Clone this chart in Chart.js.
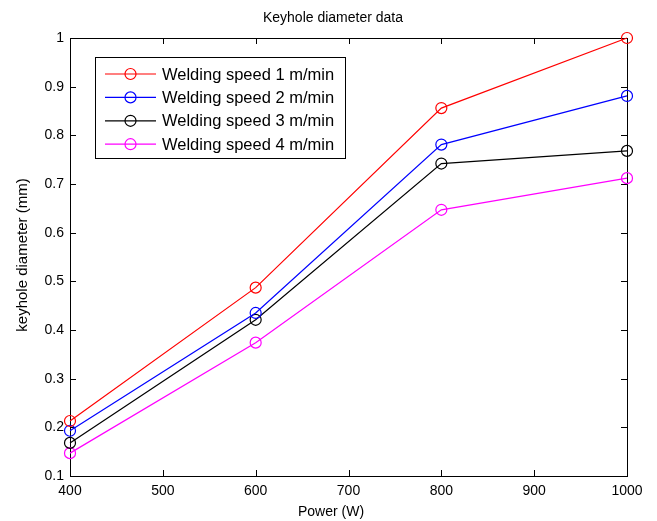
<!DOCTYPE html>
<html>
<head>
<meta charset="utf-8">
<script src="https://cdn.jsdelivr.net/npm/chart.js@4"></script>
<style>
  html, body { margin: 0; padding: 0; background: #fff; }
  #wrap { width: 657px; height: 521px; }
</style>
</head>
<body>
<div id="wrap"><canvas id="chart" width="657" height="521"></canvas></div>
<script>
// ---------- DATA ----------
const power = [400, 600, 800, 1000];
const speed1 = [0.213, 0.487, 0.856, 1.0];
const speed2 = [0.193, 0.435, 0.781, 0.881];
const speed3 = [0.168, 0.421, 0.742, 0.768];
const speed4 = [0.147, 0.374, 0.647, 0.712];
const seriesLabels = [
  "Welding speed 1 m/min",
  "Welding speed 2 m/min",
  "Welding speed 3 m/min",
  "Welding speed 4 m/min",
];
const seriesColors = ["#ff0000", "#0000ff", "#000000", "#ff00ff"];
const titleText = "Keyhole diameter data";
const xTitle = "Power (W)";
const yTitle = "keyhole diameter (mm)";

const FONT = "Arial, 'Liberation Sans', sans-serif";

function makeSet(i, values) {
  return {
    label: seriesLabels[i],
    data: power.map((p, k) => ({ x: p, y: values[k] })),
    borderColor: seriesColors[i],
    backgroundColor: "rgba(0,0,0,0)",
    borderWidth: 1.2,
    pointRadius: 5.5,
    pointHoverRadius: 5.5,
    pointBorderWidth: 1.2,
    pointBorderColor: seriesColors[i],
    pointBackgroundColor: "rgba(0,0,0,0)",
    tension: 0,
    clip: false,
  };
}

// box, inward ticks, title, axis labels, legend
const matlabLook = {
  id: "matlabLook",
  beforeDatasetsDraw(chart) {
    const ctx = chart.ctx;
    const a = chart.chartArea;
    const xs = chart.scales.x;
    const ys = chart.scales.y;
    ctx.save();
    ctx.strokeStyle = "#000";
    ctx.lineWidth = 1;
    ctx.strokeRect(Math.round(a.left) + 0.5, Math.round(a.top) + 0.5,
      Math.round(a.right - a.left), Math.round(a.bottom - a.top));
    ctx.beginPath();
    xs.ticks.forEach((t) => {
      const px = Math.round(xs.getPixelForValue(t.value)) + 0.5;
      ctx.moveTo(px, a.bottom); ctx.lineTo(px, a.bottom - 6);
      ctx.moveTo(px, a.top); ctx.lineTo(px, a.top + 6);
    });
    ys.ticks.forEach((t) => {
      const py = Math.round(ys.getPixelForValue(t.value)) + 0.5;
      ctx.moveTo(a.left, py); ctx.lineTo(a.left + 6, py);
      ctx.moveTo(a.right, py); ctx.lineTo(a.right - 6, py);
    });
    ctx.stroke();

    ctx.fillStyle = "#000";
    ctx.font = "14px " + FONT;
    ctx.textAlign = "center";
    ctx.textBaseline = "middle";
    ctx.fillText(titleText, 333, 18);
    ctx.fillText(xTitle, 331, 512);
    ctx.font = "15px " + FONT;
    ctx.translate(23, 255);
    ctx.rotate(-Math.PI / 2);
    ctx.fillText(yTitle, 0, 0);
    ctx.restore();
  },
  afterDraw(chart) {
    const ctx = chart.ctx;
    ctx.save();
    const bx = 95.5, by = 57.5, bw = 250, bh = 101;
    ctx.fillStyle = "#fff";
    ctx.fillRect(bx, by, bw, bh);
    ctx.strokeStyle = "#000";
    ctx.lineWidth = 1;
    ctx.strokeRect(bx, by, bw, bh);
    ctx.font = "16.5px " + FONT;
    ctx.textAlign = "left";
    ctx.textBaseline = "middle";
    chart.data.datasets.forEach((ds, i) => {
      const y = 74 + i * 23.4;
      ctx.strokeStyle = ds.borderColor;
      ctx.lineWidth = 1.2;
      ctx.beginPath();
      ctx.moveTo(105, y); ctx.lineTo(156, y);
      ctx.stroke();
      ctx.beginPath();
      ctx.arc(130.5, y, 5.5, 0, Math.PI * 2);
      ctx.stroke();
      ctx.fillStyle = "#000";
      ctx.fillText(ds.label, 162, y + 1);
    });
    ctx.restore();
  },
};

new Chart(document.getElementById("chart"), {
  type: "line",
  data: {
    datasets: [
      makeSet(0, speed1),
      makeSet(1, speed2),
      makeSet(2, speed3),
      makeSet(3, speed4),
    ],
  },
  options: {
    responsive: false,
    animation: false,
    layout: { padding: { top: 38, right: 30, left: 0, bottom: 0 } },
    plugins: {
      legend: { display: false },
      title: { display: false },
      tooltip: { enabled: false },
    },
    scales: {
      x: {
        type: "linear",
        min: 400,
        max: 1000,
        ticks: { stepSize: 100, color: "#000", padding: 7, maxRotation: 0,
          font: { family: FONT, size: 14 },
          callback: (v) => String(v) },
        grid: { display: false, drawTicks: false },
        border: { display: false },
        afterFit: (s) => { s.height = 45; },
      },
      y: {
        min: 0.1,
        max: 1,
        ticks: { stepSize: 0.1, color: "#000", padding: 6,
          font: { family: FONT, size: 14 },
          callback: (v) => String(Math.round(v * 10) / 10) },
        grid: { display: false, drawTicks: false },
        border: { display: false },
        afterFit: (s) => { s.width = 70; },
      },
    },
  },
  plugins: [matlabLook],
});
</script>
</body>
</html>
